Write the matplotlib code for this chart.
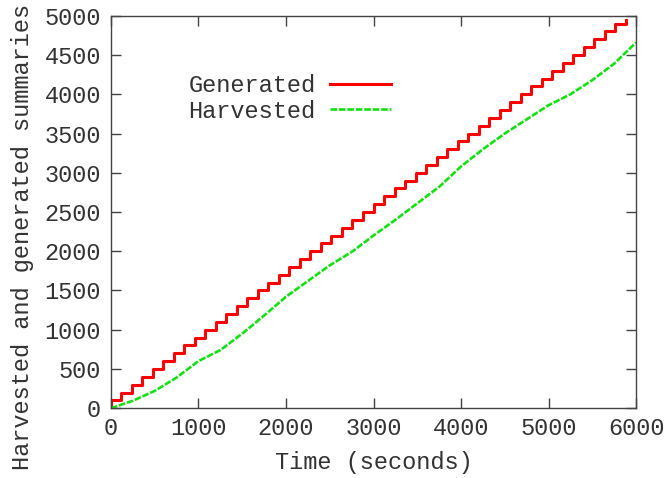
import matplotlib
matplotlib.use("Agg")
from matplotlib import pyplot as plt

# Generated summaries: a step up every 120 s
gen_time = [0, 0, 120, 240, 360, 480, 600, 720, 840, 960, 1080, 1200, 1320, 1440,
            1560, 1680, 1800, 1920, 2040, 2160, 2280, 2400, 2520, 2640, 2760,
            2880, 3000, 3120, 3240, 3360, 3480, 3600, 3720, 3840, 3960, 4080,
            4200, 4320, 4440, 4560, 4680, 4800, 4920, 5040, 5160, 5280, 5400,
            5520, 5640, 5760, 5880]
gen_count = [0, 100, 200, 300, 400, 500, 600, 700, 800, 900, 1000, 1100, 1200,
             1300, 1400, 1500, 1600, 1700, 1800, 1900, 2000, 2100, 2200, 2300,
             2400, 2500, 2600, 2700, 2800, 2900, 3000, 3100, 3200, 3300, 3400,
             3500, 3600, 3700, 3800, 3900, 4000, 4100, 4200, 4300, 4400, 4500,
             4600, 4700, 4800, 4900, 4950]

# Harvested summaries
harv_time = [0, 250, 500, 750, 1000, 1250, 1500, 1750, 2000, 2250, 2500, 2750,
             3000, 3250, 3500, 3750, 4000, 4250, 4500, 4750, 5000, 5250, 5500,
             5750, 6000]
harv_count = [0, 95, 220, 390, 600, 740, 950, 1180, 1420, 1620, 1820, 1990,
              2200, 2400, 2610, 2820, 3080, 3300, 3500, 3680, 3860, 4000, 4180,
              4390, 4660]

xticks = [0, 1000, 2000, 3000, 4000, 5000, 6000]
yticks = [0, 500, 1000, 1500, 2000, 2500, 3000, 3500, 4000, 4500, 5000]

plt.rcParams['font.family'] = ['Liberation Mono', 'DejaVu Sans Mono']
plt.rcParams['font.size'] = 17

fig = plt.figure(figsize=(6.64, 4.78), dpi=100)
ax = fig.add_axes([0.167, 0.146, 0.791, 0.821])

ax.step(gen_time, gen_count, where='post', color='#ff0000', linewidth=2.2,
        label='Generated')
ax.plot(harv_time, harv_count, color='#11e011', linewidth=1.9,
        linestyle=(0, (2.5, 0.7)), label='Harvested')

ax.set_xlim(0, 6000)
ax.set_ylim(0, 5000)
ax.set_xticks(xticks)
ax.set_yticks(yticks)
ax.tick_params(direction='in', length=7, width=1, top=True, right=True,
               color='#444444', labelcolor='#333333')
ax.tick_params(axis='x', pad=6)
ax.tick_params(axis='y', pad=7)
for s in ax.spines.values():
    s.set_color('#444444')
    s.set_linewidth(1)

ax.set_xlabel('Time (seconds)', color='#333333', labelpad=8)
ax.set_ylabel('Harvested and generated summaries', color='#333333')
ax.yaxis.set_label_coords(-0.147, 0.436)

leg = ax.legend(loc='upper left', bbox_to_anchor=(0.13, 0.875), frameon=False,
                markerfirst=False, handlelength=2.6, handletextpad=0.6,
                labelspacing=0.1, borderaxespad=0)
for t in leg.get_texts():
    t.set_color('#333333')

plt.savefig('out.png', dpi=100)
